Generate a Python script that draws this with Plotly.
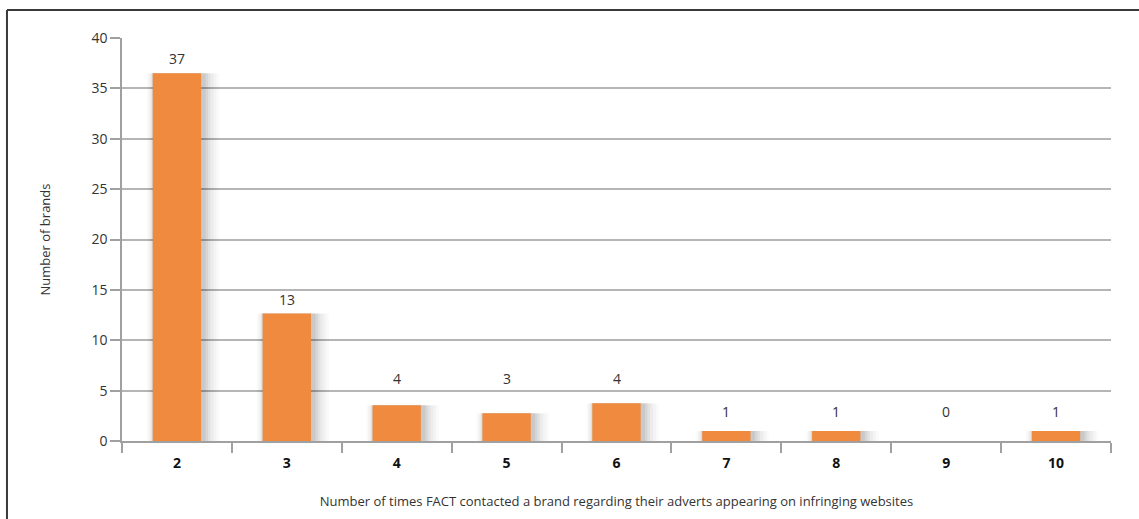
import plotly.graph_objects as go

categories = ["2", "3", "4", "5", "6", "7", "8", "9", "10"]
bar_values = [36.5, 12.65, 3.55, 2.75, 3.75, 1.0, 1.0, 0.0, 1.0]
label_texts = ["37", "13", "4", "3", "4", "1", "1", "0", "1"]
y_ticks = [0, 5, 10, 15, 20, 25, 30, 35, 40]

ORANGE = "#EF8A3E"
GRID = "#B5B5B5"
TXT = "#333333"
FONT = "Open Sans"

fig = go.Figure()

# soft drop shadow layers (width growth, right shift, opacity)
shadow_layers = [(0.22, 0.055, 0.02), (0.18, 0.050, 0.025), (0.14, 0.044, 0.03),
                 (0.10, 0.036, 0.04), (0.07, 0.028, 0.05), (0.04, 0.020, 0.06)]
for dw, dx, op in shadow_layers:
    fig.add_trace(go.Bar(
        x=categories, y=bar_values,
        width=0.44 + dw, offset=-0.22 - dw / 2 + dx,
        marker=dict(color=f"rgba(0,0,0,{op})", line=dict(width=0)),
        hoverinfo="skip", showlegend=False,
    ))

fig.add_trace(go.Bar(
    x=categories, y=bar_values,
    width=0.44, offset=-0.22,
    marker=dict(color=ORANGE, line=dict(width=0)),
    showlegend=False,
))

for i, (v, t) in enumerate(zip(bar_values, label_texts)):
    if v > 5:
        anchor, shift = v, 3
    elif v >= 2:
        anchor, shift = 5.5, -4
    else:
        anchor, shift = 2.2, -4
    fig.add_annotation(
        x=i, y=anchor, text=t, showarrow=False,
        yanchor="bottom", yshift=shift,
        font=dict(family=FONT, size=14, color=TXT),
    )

fig.update_layout(
    width=1139, height=519,
    margin=dict(l=122, r=28, t=38, b=77.5),
    plot_bgcolor="white", paper_bgcolor="white",
    barmode="overlay",
    font=dict(family=FONT, size=14, color=TXT),
    xaxis=dict(
        type="category",
        range=[-0.5, 8.5],
        automargin=False,
        tickson="boundaries",
        ticks="outside", ticklen=10, tickcolor="#A0A0A0", tickwidth=1.5,
        showline=True, linecolor="#A0A0A0", linewidth=1.5,
        showgrid=False,
        ticklabelstandoff=8,
        tickfont=dict(family=FONT, size=14, color="#111111", weight="bold"),
        title=dict(text="Number of times FACT contacted a brand regarding their adverts appearing on infringing websites",
                   font=dict(family=FONT, size=13, color=TXT), standoff=26),
    ),
    yaxis=dict(
        range=[0, 40], tickvals=y_ticks,
        automargin=False,
        ticks="outside", ticklen=10, tickcolor="#A0A0A0", tickwidth=1.5,
        showline=True, linecolor="#A0A0A0", linewidth=1.5,
        showgrid=True, gridcolor=GRID, gridwidth=1.5,
        zeroline=False,
        tickfont=dict(family=FONT, size=14, color=TXT),
        title=dict(text="Number of brands", font=dict(family=FONT, size=13, color=TXT), standoff=38),
    ),
    shapes=[
        dict(type="line", xref="paper", yref="paper", x0=-0.1163, x1=1.1, y0=1.0694, y1=1.0694,
             line=dict(color="#3A3A3A", width=2)),
        dict(type="line", xref="paper", yref="paper", x0=-0.1163, x1=-0.1163, y0=1.0694, y1=-0.3,
             line=dict(color="#3A3A3A", width=2)),
    ],
)

fig.write_html("out.html", config={"displayModeBar": False},
               post_script="document.body.style.margin='0';")
